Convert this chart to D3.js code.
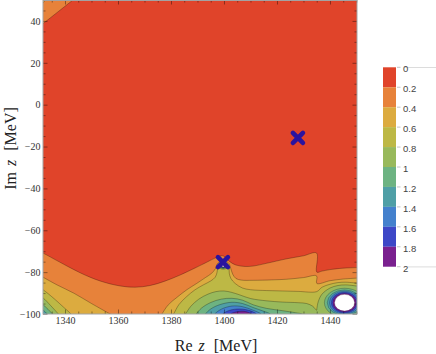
<!DOCTYPE html>
<html><head><meta charset="utf-8">
<script src="https://cdn.jsdelivr.net/npm/d3@7"></script>
<style>body{margin:0;background:#fff}svg{display:block}</style>
</head><body>
<svg id="c" width="436" height="354"></svg>
<script>
// ---------- data ----------
const xTicks = [1340, 1360, 1380, 1400, 1420, 1440];
const yTicks = [-100, -80, -60, -40, -20, 0, 20, 40];
const levels = [0, 0.2, 0.4, 0.6, 0.8, 1, 1.2, 1.4, 1.6, 1.8, 2];
const levelLabels = ["0", "0.2", "0.4", "0.6", "0.8", "1", "1.2", "1.4", "1.6", "1.8", "2"];
const bandColors = ["#e0442a", "#e7823a", "#dcab3f", "#bdb845", "#98b95b", "#6db382", "#4f9fa6", "#4481cd", "#3d47c7", "#7a208f"];

// contour lines [Re z, Im z]
const c02Corner = [[1328, 35], [1348, 55]];
const c02Bottom = [[1330, -70], [1331.7, -70.9], [1338, -75.2], [1345.7, -80.3], [1353.2, -84.2], [1360.8, -86.6], [1366.4, -87.2], [1372.1, -86.4], [1377.7, -84.3], [1383.4, -81.4], [1389.1, -78], [1393.6, -75.2], [1396.6, -73.3], [1399.6, -72.2], [1402.2, -75], [1404.5, -76.6], [1408, -77.3], [1411, -77.1], [1416, -75.8], [1423.8, -73.6], [1430, -72.2], [1434.95, -70.9], [1435.05, -80], [1437, -79.5], [1440, -78.8], [1445, -78.1], [1451, -77.8]];
const c04Corner = [[1331, 47.6], [1333.4, 51]];
const c04Left = [[1330, -81.2], [1331.7, -82.4], [1337, -86.1], [1343.4, -90.1], [1350, -95], [1357, -100], [1358.4, -101]];
const c04Right = [[1376.2, -101], [1376.6, -100], [1379, -95.6], [1382.2, -92.1], [1386, -88.4], [1389.7, -85.4], [1393, -82.6], [1395.3, -80.6], [1396.8, -78.3], [1397.6, -75.8], [1399.8, -74.2], [1401.8, -75.8], [1402.5, -78], [1403.3, -81], [1404.5, -83], [1406.5, -83.8], [1411, -83.9], [1418, -83.7], [1423.6, -83.4], [1430, -82.6], [1434.95, -81.8], [1435.05, -85.4], [1440, -84.1], [1445, -83.3], [1451, -82.8]];
const c06Left = [[1330, -87.2], [1331.7, -88.4], [1336, -92.8], [1339.5, -96.8], [1342.3, -100], [1343, -101]];
const c06Right = [[1380.5, -101], [1381, -100], [1383, -95.5], [1385.9, -91.7], [1389, -88.5], [1392.2, -86.1], [1395, -84.2], [1396.7, -82.4], [1397.4, -80], [1397.6, -78], [1398.2, -76], [1399.8, -75.2], [1401.3, -76], [1401.9, -78], [1402, -80.5], [1402.6, -83], [1404.2, -85.4], [1407, -87.6], [1410, -88.4], [1416, -88.8], [1422, -89], [1428, -89.2], [1435, -89.3], [1437, -87.2], [1440, -85.8], [1443, -85], [1446, -84.8], [1451, -85.4]];
const c08Left = [[1330, -91.2], [1331.7, -92.3], [1334.6, -96], [1337.5, -100], [1338.2, -101]];
const c08Right = [[1385, -101], [1385.5, -100], [1387.5, -96.3], [1390.5, -92.9], [1394, -90.5], [1397, -89.3], [1400, -89], [1403, -89.7], [1406, -90.9], [1410, -92.6], [1416, -93.7], [1422, -94.3], [1428, -94.6], [1431.2, -95], [1433.5, -96.3], [1434.95, -98.2], [1435.05, -97.5], [1435.6, -94], [1437, -90.5], [1440, -87.6], [1443, -86.4], [1446, -86.1], [1451, -86.8]];
const c10Left = [[1330, -94.6], [1331.7, -95.6], [1335.3, -100], [1336, -101]];
const c10Dome = [[1389, -101], [1389.5, -100], [1391.5, -97.2], [1395, -94.5], [1399, -92.9], [1403, -92.5], [1407, -93.4], [1411, -95.6], [1416, -97.3], [1422, -98.4], [1427, -99.4], [1429.5, -100], [1430.5, -101]];
const c12Left = [[1330, -97.3], [1331.7, -98.1], [1333.3, -100], [1334, -101]];
const c12Dome = [[1392.5, -101], [1393, -100], [1395, -97.6], [1398.5, -95.5], [1403, -94.4], [1407, -95], [1411, -96.9], [1415, -98.7], [1417.5, -100], [1418, -101]];
const c14Dome = [[1396, -101], [1396.5, -100], [1399, -97.7], [1403, -96.2], [1407, -96.5], [1411, -98.2], [1414, -100], [1414.5, -101]];
const c16Dome = [[1399, -101], [1399.5, -100], [1402, -98.3], [1406, -97.6], [1410, -98.5], [1412.3, -100], [1412.8, -101]];
const c18Dome = [[1402, -101], [1402.5, -100], [1405, -98.9], [1408, -98.8], [1410.3, -100], [1410.8, -101]];

// rings around the two singular points: [level, radius Re, radius Im]
const holeCenter = [1445.5, -94.6];
const holeRings = [[1.0, 7.6, 6.9], [1.2, 6.5, 6.1], [1.4, 5.7, 5.5], [1.6, 5.0, 5.0], [1.8, 4.4, 4.5], [2.0, 3.8, 4.0]];
const smallCenter = [1399.7, -77.0];
const smallRings = [[0.8, 1.6, 1.6], [1.0, 1.3, 1.3], [1.2, 1.1, 1.1], [1.4, 0.95, 0.95], [1.6, 0.8, 0.8], [1.8, 0.65, 0.65], [2.0, 0.5, 0.5]];

// pole positions (crosses)
const poles = [[1427.9, -15.9], [1399.6, -75.2]];

// ---------- drawing ----------
const svg = d3.select("#c");
const x = d3.scaleLinear().domain([1331.7, 1450.2]).range([43, 357]);
const y = d3.scaleLinear().domain([-100, 50]).range([314, 0]);

const components = [
  {level: 0.2, line: c02Corner, close: [[1328, 55]]},
  {level: 0.2, line: c02Bottom, close: [[1451, -101], [1330, -101]]},
  {level: 0.4, line: c04Corner, close: [[1331, 51]]},
  {level: 0.4, line: c04Left, close: [[1330, -101]]},
  {level: 0.4, line: c04Right, close: [[1451, -101]]},
  {level: 0.6, line: c06Left, close: [[1330, -101]]},
  {level: 0.6, line: c06Right, close: [[1451, -101]]},
  {level: 0.8, line: c08Left, close: [[1330, -101]]},
  {level: 0.8, line: c08Right, close: [[1451, -101]]},
  {level: 1.0, line: c10Left, close: [[1330, -101]]},
  {level: 1.0, line: c10Dome, close: []},
  {level: 1.2, line: c12Left, close: [[1330, -101]]},
  {level: 1.2, line: c12Dome, close: []},
  {level: 1.4, line: c14Dome, close: []},
  {level: 1.6, line: c16Dome, close: []},
  {level: 1.8, line: c18Dome, close: []}
];
holeRings.forEach(r => components.push({level: r[0], ring: true, c: holeCenter, rx: r[1], ry: r[2]}));
smallRings.forEach(r => components.push({level: r[0], ring: true, c: smallCenter, rx: r[1], ry: r[2]}));
components.sort((a, b) => a.level - b.level);

const fillFor = l => l >= 2 ? "#ffffff" : bandColors[Math.round(l / 0.2)];

svg.append("defs").append("clipPath").attr("id", "pc")
  .append("rect").attr("x", x.range()[0]).attr("y", y.range()[1])
  .attr("width", x.range()[1] - x.range()[0]).attr("height", y.range()[0] - y.range()[1]);

const plot = svg.append("g").attr("clip-path", "url(#pc)");
plot.append("rect").attr("x", x.range()[0]).attr("y", y.range()[1])
  .attr("width", x.range()[1] - x.range()[0]).attr("height", y.range()[0] - y.range()[1])
  .attr("fill", bandColors[0]);

const lineGen = d3.line().x(d => x(d[0])).y(d => y(d[1])).curve(d3.curveCatmullRom.alpha(0.5));
const stroke = "rgba(0,0,0,0.32)";

components.forEach(c => {
  if (c.ring) {
    plot.append("ellipse").attr("cx", x(c.c[0])).attr("cy", y(c.c[1]))
      .attr("rx", x(c.c[0] + c.rx) - x(c.c[0])).attr("ry", y(c.c[1]) - y(c.c[1] + c.ry))
      .attr("fill", fillFor(c.level)).attr("stroke", stroke).attr("stroke-width", 0.7);
  } else {
    const d = lineGen(c.line) + c.close.map(p => `L${x(p[0])},${y(p[1])}`).join("") + "Z";
    plot.append("path").attr("d", d).attr("fill", fillFor(c.level));
  }
});
components.filter(c => !c.ring).forEach(c => {
  plot.append("path").attr("d", lineGen(c.line)).attr("fill", "none")
    .attr("stroke", stroke).attr("stroke-width", 0.85);
});

// pole crosses
plot.selectAll("path.pole").data(poles).join("path").attr("class", "pole")
  .attr("transform", d => `translate(${x(d[0])},${y(d[1])})`)
  .attr("d", "M-5,-5L5,5M-5,5L5,-5")
  .attr("stroke", "#2b139f").attr("stroke-width", 4.6).attr("stroke-linecap", "round").attr("fill", "none");

// frame & ticks
const tickCol = "rgba(0,0,0,0.38)";
const minorX = d3.range(1335, 1451, 5).filter(v => v % 20 !== 0);
const minorY = d3.range(-95, 51, 5).filter(v => v % 20 !== 0);
function styleAxis(g) {
  g.select(".domain").remove();
  g.selectAll(".tick line").attr("stroke", tickCol);
  g.selectAll(".tick text").attr("fill", "#333").attr("font-family", "'Liberation Serif','Times New Roman',serif").attr("font-size", 10);
}
const x0 = x.range()[0], x1 = x.range()[1], y0 = y.range()[0], y1 = y.range()[1];
svg.append("g").attr("transform", `translate(0,${y0})`)
  .call(d3.axisBottom(x).tickValues(xTicks).tickSize(-4.5).tickPadding(3).tickFormat(d3.format("d"))).call(styleAxis);
svg.append("g").attr("transform", `translate(0,${y0})`)
  .call(d3.axisBottom(x).tickValues(minorX).tickSize(-2.5).tickFormat("")).call(styleAxis);
svg.append("g").attr("transform", `translate(0,${y1})`)
  .call(d3.axisTop(x).tickValues(xTicks).tickSize(-4.5).tickFormat("")).call(styleAxis);
svg.append("g").attr("transform", `translate(0,${y1})`)
  .call(d3.axisTop(x).tickValues(minorX).tickSize(-2.5).tickFormat("")).call(styleAxis);
svg.append("g").attr("transform", `translate(${x0},0)`)
  .call(d3.axisLeft(y).tickValues(yTicks).tickSize(-4.5).tickPadding(2.5).tickFormat(d3.format("d"))).call(styleAxis);
svg.append("g").attr("transform", `translate(${x0},0)`)
  .call(d3.axisLeft(y).tickValues(minorY).tickSize(-2.5).tickFormat("")).call(styleAxis);
svg.append("g").attr("transform", `translate(${x1},0)`)
  .call(d3.axisRight(y).tickValues(yTicks).tickSize(-4.5).tickFormat("")).call(styleAxis);
svg.append("g").attr("transform", `translate(${x1},0)`)
  .call(d3.axisRight(y).tickValues(minorY).tickSize(-2.5).tickFormat("")).call(styleAxis);
svg.append("rect").attr("x", x0).attr("y", y1 + 0.5).attr("width", x1 - x0).attr("height", y0 - y1 - 0.5)
  .attr("fill", "none").attr("stroke", "#a3a3a3").attr("stroke-width", 1);

// axis titles
const serif = "'Liberation Serif','Times New Roman',serif";
const xt = svg.append("text").attr("x", 216).attr("y", 350.5).attr("text-anchor", "middle")
  .attr("font-family", serif).attr("font-size", 16).attr("fill", "#222");
xt.append("tspan").text("Re");
xt.append("tspan").attr("dx", 6).attr("font-style", "italic").text("z");
xt.append("tspan").attr("dx", 9).text("[MeV]");
const yt = svg.append("text").attr("transform", "translate(16,148.5) rotate(-90)").attr("text-anchor", "middle")
  .attr("font-family", serif).attr("font-size", 16).attr("fill", "#222");
yt.append("tspan").text("Im");
yt.append("tspan").attr("dx", 6).attr("font-style", "italic").text("z");
yt.append("tspan").attr("dx", 9).text("[MeV]");

// colour bar
const yc = d3.scaleLinear().domain([0, 2]).range([67.3, 266.7]);
const cb = svg.append("g");
cb.selectAll("rect").data(bandColors).join("rect")
  .attr("x", 383).attr("width", 13)
  .attr("y", (d, i) => yc(levels[i])).attr("height", (d, i) => yc(levels[i + 1]) - yc(levels[i]))
  .attr("fill", d => d);
cb.selectAll("line.tk").data(levels).join("line").attr("class", "tk")
  .attr("x1", 397).attr("x2", 400.5).attr("y1", d => yc(d)).attr("y2", d => yc(d))
  .attr("stroke", "#b5b5b5").attr("stroke-width", 0.8);
cb.selectAll("line.edge").data([levels[0], levels[levels.length - 1]]).join("line").attr("class", "edge")
  .attr("x1", 404).attr("x2", 436).attr("y1", d => yc(d) + 0.2).attr("y2", d => yc(d) + 0.2)
  .attr("stroke", "#dcdcdc").attr("stroke-width", 1);
cb.selectAll("text").data(levels).join("text")
  .attr("x", 403).attr("y", d => yc(d) + 1.5).attr("dy", "0.35em")
  .attr("font-family", "'Liberation Sans',Arial,sans-serif").attr("font-size", 9.5).attr("fill", "#444")
  .text((d, i) => levelLabels[i]);
</script>
</body></html>
